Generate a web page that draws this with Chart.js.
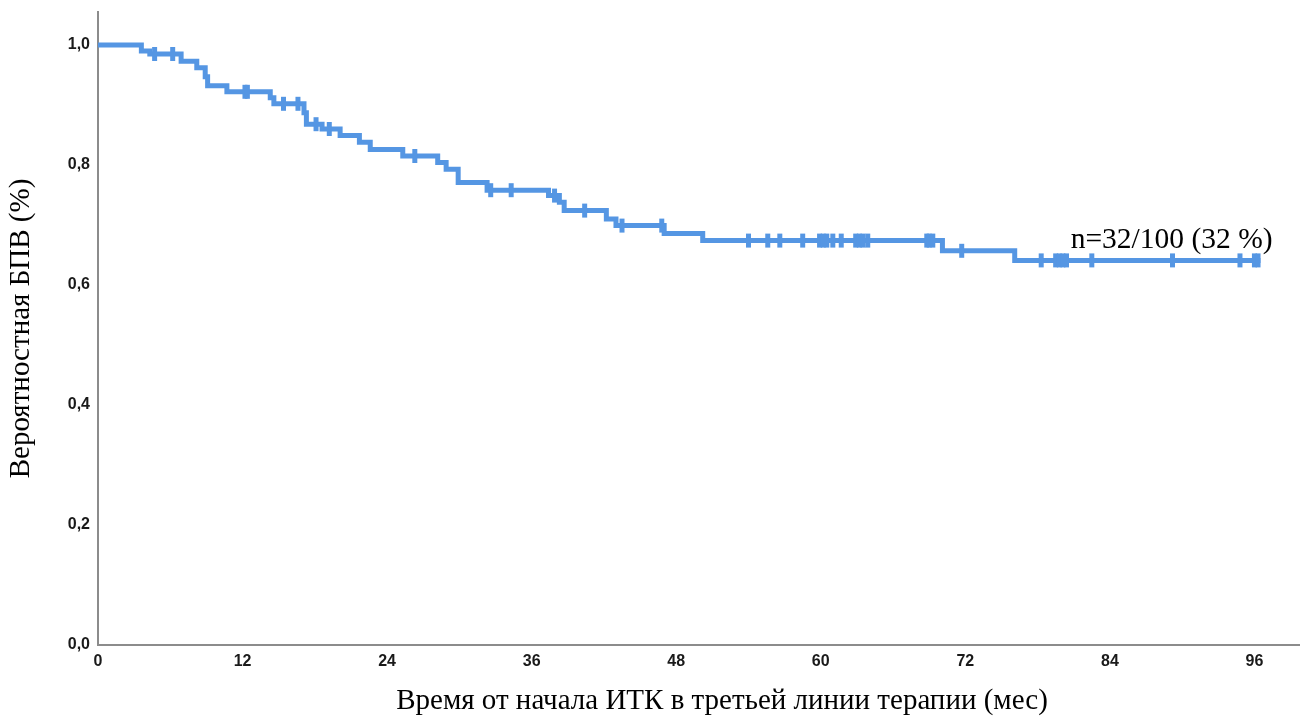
<!DOCTYPE html>
<html>
<head>
<meta charset="utf-8">
<script src="https://cdn.jsdelivr.net/npm/chart.js@4.4.1/dist/chart.umd.min.js"></script>
<style>
html,body{margin:0;padding:0;background:#fff;}
#wrap{width:1311px;height:717px;position:relative;}
</style>
</head>
<body>
<div id="wrap"><canvas id="c" width="1311" height="717"></canvas></div>
<script>
// Kaplan-Meier curve
const eventTimes = [0, 3.6, 4.3, 6.9, 8.2, 8.9, 9.1, 10.7, 14.3, 14.6, 17.1, 17.3, 18.6, 20.1, 21.7, 22.6, 25.3, 28.2, 28.9, 29.9, 32.3, 37.4, 38.3, 38.7, 42.2, 43.0, 47.0, 50.2, 70.1, 76.1, 96.5];
const survival   = [1.0, 0.990, 0.985, 0.973, 0.962, 0.947, 0.932, 0.922, 0.912, 0.902, 0.887, 0.868, 0.860, 0.849, 0.838, 0.826, 0.815, 0.804, 0.793, 0.771, 0.758, 0.749, 0.738, 0.724, 0.710, 0.699, 0.686, 0.674, 0.657, 0.641, 0.641];
const censorTimes = [4.7, 6.2, 12.2, 12.4, 15.4, 16.6, 18.1, 19.2, 26.3, 32.6, 34.3, 37.9, 40.4, 43.5, 46.8, 54.0, 55.6, 56.6, 58.5, 59.9, 60.2, 60.5, 61.0, 61.7, 62.9, 63.2, 63.5, 63.9, 68.8, 69.0, 69.3, 71.7, 78.3, 79.5, 79.8, 80.1, 80.4, 82.5, 89.2, 94.8, 96.0, 96.3];
const xTicks = [0, 12, 24, 36, 48, 60, 72, 84, 96];
const yTicks = [0, 0.2, 0.4, 0.6, 0.8, 1.0];
const annotationText = 'n=32/100 (32 %)';
const xTitle = 'Время от начала ИТК в третьей линии терапии (мес)';
const yTitle = 'Вероятностная БПВ (%)';

function survivalAt(t){
  let s = survival[0];
  for (let i = 0; i < eventTimes.length; i++) { if (eventTimes[i] <= t) s = survival[i]; }
  return s;
}
const stepData = eventTimes.map((t,i)=>({x:t,y:survival[i]}));
const censorData = censorTimes.map(t=>({x:t,y:survivalAt(t)}));

const lineColor = '#5596e3';
const tickFont = {family:"'Liberation Sans Narrow','Arial Narrow','Liberation Sans',Arial,sans-serif", size:16, weight:'bold'};
const titleFont = {family:"'Liberation Serif','Times New Roman',serif", size:29};

const annotPlugin = {
  id:'annot',
  afterDatasetsDraw(chart){
    const {ctx, scales:{x,y}} = chart;
    ctx.save();
    ctx.fillStyle = '#000';
    ctx.font = "29.5px 'Liberation Serif','Times New Roman',serif";
    ctx.textBaseline = 'alphabetic';
    ctx.textAlign = 'left';
    ctx.fillText(annotationText, x.getPixelForValue(80.75), y.getPixelForValue(0.662));
    // x-axis title (sits slightly right of the axis centre in the original)
    ctx.font = "29px 'Liberation Serif','Times New Roman',serif";
    ctx.textAlign = 'center';
    ctx.textBaseline = 'middle';
    ctx.fillText(xTitle, x.getPixelForValue(51.8), 701);
    ctx.restore();
  }
};

new Chart(document.getElementById('c'), {
  type:'scatter',
  data:{datasets:[
    {data:stepData, showLine:true, stepped:true, borderColor:lineColor, borderWidth:5, pointRadius:0, pointHoverRadius:0, fill:false, order:2},
    {data:censorData, showLine:false, pointStyle:'line', rotation:90, pointRadius:7, pointBorderWidth:5, borderColor:lineColor, backgroundColor:lineColor, order:1}
  ]},
  options:{
    responsive:false, animation:false,
    layout:{padding:{top:10, right:11, left:0, bottom:0}},
    plugins:{legend:{display:false}, tooltip:{enabled:false}},
    scales:{
      x:{type:'linear', min:0, max:99.7,
        afterBuildTicks(s){ s.ticks = xTicks.map(v=>({value:v})); },
        afterFit(s){ s.height = 72; s.paddingLeft = 0; s.paddingRight = 0; },
        grid:{display:false, drawTicks:false},
        border:{display:true, color:'#8c8c8c', width:2},
        ticks:{font:tickFont, color:'#1a1a1a', padding:7, maxRotation:0, callback:v=>String(v)},
        title:{display:false}
      },
      y:{type:'linear', min:0, max:1.055,
        afterBuildTicks(s){ s.ticks = yTicks.map(v=>({value:v})); },
        afterFit(s){ s.width = 98; s.paddingTop = 0; s.paddingBottom = 0; },
        grid:{display:false, drawTicks:false},
        border:{display:true, color:'#8c8c8c', width:2},
        ticks:{font:tickFont, color:'#1a1a1a', padding:8, callback:v=>v.toFixed(1).replace('.',',')},
        title:{display:true, text:yTitle, font:titleFont, color:'#000', padding:{top:4,bottom:4}}
      }
    }
  },
  plugins:[annotPlugin]
});
</script>
</body>
</html>
